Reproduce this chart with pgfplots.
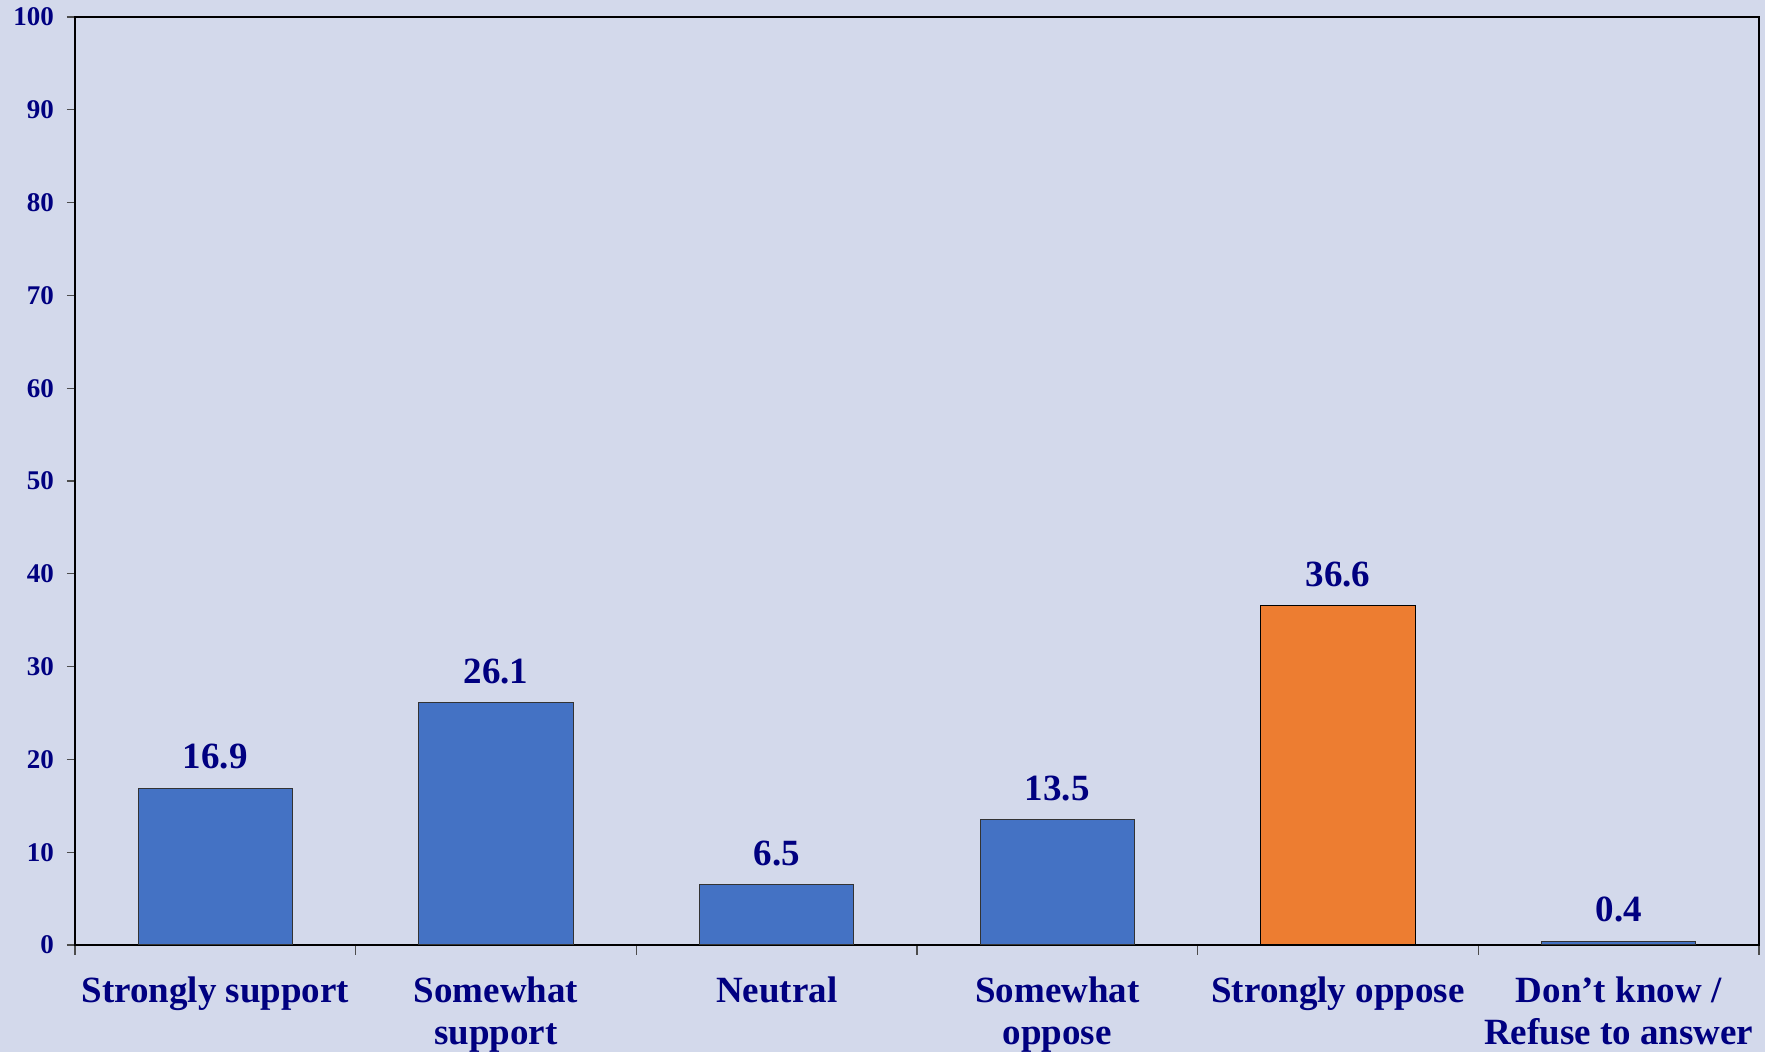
\documentclass[border=0pt]{standalone}
\usepackage{fontspec}
\setmainfont{Liberation Serif}
\usepackage{pgfplots}
\pgfplotsset{compat=1.18}
\definecolor{bgc}{HTML}{D3D9EB}
\definecolor{navy}{HTML}{000080}
\definecolor{barblue}{HTML}{4472C4}
\definecolor{barorange}{HTML}{ED7D31}
\begin{document}
\begin{tikzpicture}
\useasboundingbox (-37.5pt,-53.5pt) rectangle (845pt,472.5pt);
\fill[bgc] (-37.5pt,-53.5pt) rectangle (845pt,472.5pt);
\begin{axis}[
  at={(0,0)}, anchor=south west,
  scale only axis,
  width=842pt, height=464pt,
  xmin=-0.5, xmax=5.5,
  ymin=0, ymax=100,
  ytick={0,10,...,100},
  xtick={0,...,5},
  xticklabels={Strongly support, Somewhat\\support, Neutral, Somewhat\\oppose, Strongly oppose, Don’t know /\\Refuse to answer},
  minor xtick={-0.5,0.5,...,5.5},
  major x tick style={draw=none},
  minor tick length=5pt,
  major tick length=4pt,
  tick align=outside,
  tick pos=left,
  axis line style={black, line width=0.9pt},
  tick style={black!70, line width=0.6pt},
  /pgf/number format/assume math mode=true,
  yticklabel style={font=\fontsize{13.5}{15}\selectfont\bfseries, text=navy, xshift=-3pt},
  xticklabel style={font=\fontsize{18.5}{21}\selectfont\bfseries, text=navy, align=center, anchor=north, yshift=-8.2pt},
  ybar, bar width=0.55, bar shift=0pt,
  nodes near coords,
  every node near coord/.append style={font=\fontsize{18.5}{21.5}\selectfont\bfseries, text=navy, yshift=5.8pt},
  nodes near coords style={/pgf/number format/.cd, fixed, fixed zerofill, precision=1},
]
\addplot[fill=barblue, draw=black!80, line width=0.5pt] coordinates {(0,16.9) (1,26.1) (2,6.5) (3,13.5) (5,0.4)};
\addplot[fill=barorange, draw=black, line width=0.5pt] coordinates {(4,36.6)};
\end{axis}
\end{tikzpicture}
\end{document}
